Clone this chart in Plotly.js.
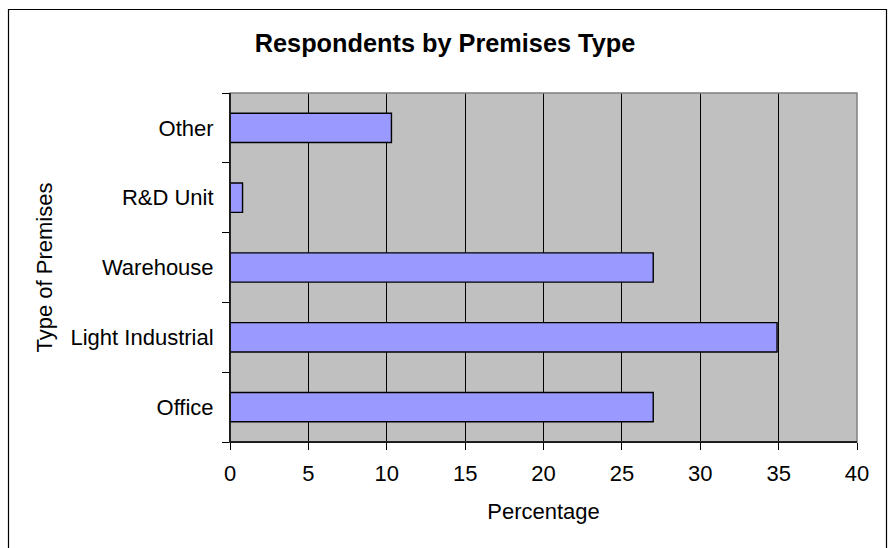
<!DOCTYPE html>
<html>
<head>
<meta charset="utf-8">
<script src="https://cdn.plot.ly/plotly-3.0.1.min.js"></script>
<style>
  html, body { margin: 0; padding: 0; background: #ffffff; }
  #chart { width: 888px; height: 548px; }
</style>
</head>
<body>
<div id="chart"></div>
<script>
// Data
const categories = ["Office", "Light Industrial", "Warehouse", "R&D Unit", "Other"];
const percentages = [27.0, 34.9, 27.0, 0.8, 10.3];
const xTickValues = [0, 5, 10, 15, 20, 25, 30, 35, 40];

const W = 888, H = 548;
const M = { l: 230, r: 31, t: 93, b: 106 };
const plotW = W - M.l - M.r, plotH = H - M.t - M.b;
const px2x = p => (p - M.l) / plotW;
const py2y = p => (H - M.b - p) / plotH;

const font = "Liberation Sans, Arial, sans-serif";

const trace = {
  type: "bar",
  orientation: "h",
  y: categories,
  x: percentages,
  marker: { color: "#9999ff", line: { color: "#000000", width: 1.4 } },
  hoverinfo: "x+y"
};

const layout = {
  width: W, height: H,
  margin: M,
  paper_bgcolor: "#ffffff",
  plot_bgcolor: "#c0c0c0",
  font: { family: font, size: 22, color: "#000000" },
  showlegend: false,
  bargap: 0.58,
  title: {
    text: "<b>Respondents by Premises Type</b>",
    font: { family: font, size: 25.3, color: "#000000" },
    x: 445 / W, xref: "container", xanchor: "center",
    y: 1 - 43 / H, yref: "container", yanchor: "middle"
  },
  xaxis: {
    range: [0, 40],
    tickvals: xTickValues,
    ticktext: xTickValues.map(String),
    ticks: "outside", ticklen: 7, tickwidth: 1, tickcolor: "#000000",
    showline: true, linecolor: "#000000", linewidth: 1,
    showgrid: true, gridcolor: "#000000", gridwidth: 1,
    zeroline: false,
    ticklabelstandoff: 5,
    tickfont: { family: font, size: 22, color: "#000000" },
    title: { text: "Percentage", font: { family: font, size: 22, color: "#000000" }, standoff: 18 },
    fixedrange: true
  },
  yaxis: {
    type: "category",
    categoryorder: "array", categoryarray: categories,
    tickson: "boundaries",
    ticks: "outside", ticklen: 7, tickwidth: 1, tickcolor: "#000000",
    showline: true, linecolor: "#000000", linewidth: 1,
    showgrid: false,
    zeroline: false,
    ticklabelstandoff: 11,
    tickfont: { family: font, size: 22, color: "#000000" },
    title: { text: "Type of Premises", font: { family: font, size: 22, color: "#000000" }, standoff: 11 },
    fixedrange: true
  },
  shapes: [
    // grey plot-area frame (top and right edges)
    { type: "rect", xref: "paper", yref: "paper", x0: 0, x1: 1, y0: 0, y1: 1,
      line: { color: "#808080", width: 1.5 }, fillcolor: "rgba(0,0,0,0)", layer: "above" },
    // black axis lines drawn over the frame
    { type: "line", xref: "paper", yref: "paper", x0: 0, x1: 1, y0: 0, y1: 0,
      line: { color: "#000000", width: 1.5 }, layer: "above" },
    { type: "line", xref: "paper", yref: "paper", x0: 0, x1: 0, y0: 0, y1: 1,
      line: { color: "#000000", width: 1.5 }, layer: "above" },
    // outer chart border
    { type: "rect", xref: "paper", yref: "paper",
      x0: px2x(8.5), x1: px2x(886.5), y0: py2y(560), y1: py2y(9.5),
      line: { color: "#000000", width: 1.2 }, fillcolor: "rgba(0,0,0,0)", layer: "above" }
  ]
};

Plotly.newPlot("chart", [trace], layout, { displayModeBar: false, staticPlot: true });
</script>
</body>
</html>
